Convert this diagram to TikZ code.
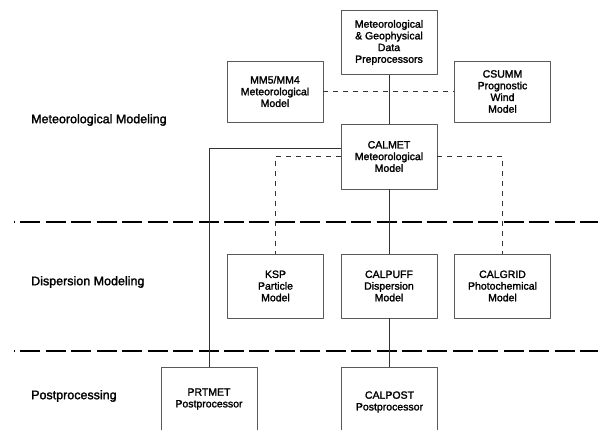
\documentclass[tikz,border=0pt]{standalone}
\usepackage{fontspec}
\setmainfont[FakeBold=1.8]{Liberation Sans}
\begin{document}
\begin{tikzpicture}[x=1pt, y=-1pt, line join=round,
	model/.style={draw=black!65, line width=0.8pt, minimum width=96pt, minimum height=64pt, inner sep=0pt, align=center, font=\fontsize{10.5}{11.7}\selectfont},
	level/.style={anchor=west, inner sep=0pt, font=\fontsize{12.5}{14}\selectfont},
	link/.style={draw=black!80, line width=0.7pt},
	optlink/.style={link, dash pattern=on 5pt off 5pt},
	divider/.style={line width=1.4pt, dash pattern=on 20pt off 5.44pt, dash phase=19pt}]
	\useasboundingbox (0,0) rectangle (598,430);
	\def\xl{14} \def\xr{598} \def\ya{222} \def\yb{351}
	% level dividers
	\draw[divider] (\xl,\ya) -- (\xr,\ya);
	\draw[divider] (\xl,\yb) -- (\xr,\yb);
	% models
	\node[model] (pre) at (389,42.5) {Meteorological\\\& Geophysical\\Data\\Preprocessors};
	\node[model, minimum height=61pt] (mm5) at (275,91.5) {MM5/MM4\\Meteorological\\Model};
	\node[model, minimum height=61pt] (csumm) at (502.5,91.5) {CSUMM\\Prognostic\\Wind\\Model};
	\node[model, minimum height=65pt] (calmet) at (389,156.5) {CALMET\\Meteorological\\Model};
	\node[model] (ksp) at (275.5,286) {KSP\\Particle\\Model};
	\node[model] (calpuff) at (389,286) {CALPUFF\\Dispersion\\Model};
	\node[model] (calgrid) at (502.5,286) {CALGRID\\Photochemical\\Model};
	\node[model] (prtmet) at (209,399) {PRTMET\\Postprocessor};
	\node[model, minimum height=70pt] (calpost) at (389.5,402) {CALPOST\\Postprocessor};
	% connectors
	\draw[link] (pre) -- (calmet);
	\draw[optlink] (mm5) -- (csumm);
	\draw[link] ([yshift=8.5pt]calmet.west) -| (prtmet.north);
	\draw[optlink] (calmet.west) -| (ksp.north);
	\draw[optlink] (calmet.east) -| (calgrid.north);
	\draw[link] (calmet) -- (calpuff);
	\draw[link] (calpuff.south) -- (calpuff.south |- calpost.north);
	% level labels
	\path 
	(31,120) node[level]{Meteorological Modeling}
	(31,282) node[level]{Dispersion Modeling}
	(31,396) node[level]{Postprocessing};
\end{tikzpicture}
\end{document}
